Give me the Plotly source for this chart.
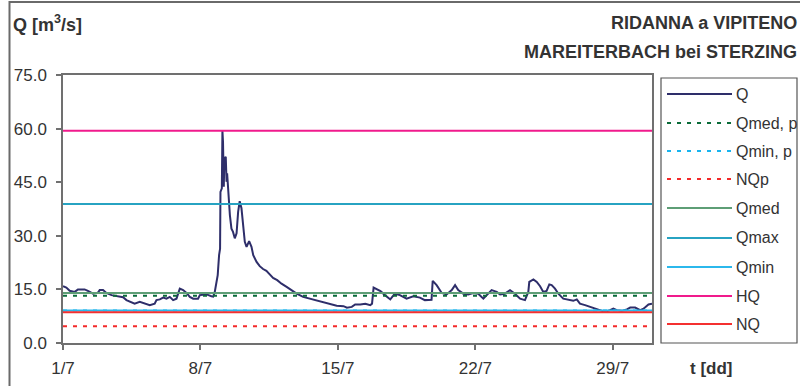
import pandas as pd
import plotly.graph_objects as go

# ---------------- data ----------------
# time in days after 1 July 00:00, discharge Q [m3/s]
t_days = [0.00, 0.17, 0.34, 0.60, 0.76, 1.10, 1.27, 1.53, 1.78, 1.87, 2.04, 2.21, 2.47, 2.80,
          3.06, 3.23, 3.49, 3.65, 3.91, 4.16, 4.42, 4.67, 4.76, 4.93, 5.10, 5.27, 5.44, 5.61,
          5.78, 5.95, 6.12, 6.29, 6.46, 6.63, 6.88, 6.97, 7.31, 7.56, 7.65, 7.73, 7.80, 7.88,
          7.95, 8.00, 8.02, 8.09, 8.12, 8.15, 8.19, 8.22, 8.29, 8.33, 8.36, 8.43, 8.50, 8.58,
          8.66, 8.75, 8.84, 8.92, 9.00, 9.09, 9.17, 9.26, 9.35, 9.48, 9.60, 9.69, 9.86, 10.02,
          10.19, 10.36, 10.53, 10.70, 10.91, 11.13, 11.39, 11.64, 11.90, 12.23, 12.57, 12.92,
          13.26, 13.60, 13.94, 14.29, 14.46, 14.71, 14.88, 15.14, 15.40, 15.65, 15.74, 15.82,
          16.00, 16.17, 16.40, 16.67, 16.90, 17.16, 17.50, 17.84, 18.18, 18.43, 18.77, 18.83,
          19.03, 19.29, 19.54, 19.80, 19.97, 20.13, 20.39, 20.64, 20.90, 21.15, 21.41, 21.66,
          21.83, 22.09, 22.26, 22.51, 22.77, 23.02, 23.28, 23.53, 23.70, 23.75, 23.96, 24.13,
          24.30, 24.46, 24.63, 24.77, 24.89, 25.06, 25.23, 25.48, 25.74, 25.99, 26.17, 26.33,
          26.59, 26.84, 27.10, 27.35, 27.61, 27.86, 28.03, 28.21, 28.46, 28.72, 28.89, 29.14,
          29.40, 29.57, 29.82, 30.00]
q_vals = [15.9, 15.5, 14.6, 14.3, 15.0, 15.0, 14.6, 13.8, 14.1, 14.8, 14.8, 14.0, 13.4, 13.1,
          12.8, 12.0, 11.5, 11.0, 11.5, 11.0, 10.6, 11.0, 12.0, 12.2, 12.7, 12.4, 12.9, 12.0,
          12.4, 15.2, 14.8, 14.0, 12.9, 12.4, 12.4, 13.4, 13.6, 13.1, 13.0, 14.3, 16.2, 19.0,
          24.6, 26.4, 42.3, 43.3, 59.4, 56.3, 43.7, 51.7, 52.1, 45.1, 47.5, 40.5, 35.8, 32.0,
          31.1, 29.3, 30.7, 36.7, 39.7, 37.7, 33.0, 28.3, 26.9, 28.5, 26.9, 24.6, 22.7, 21.5,
          20.7, 20.2, 19.2, 18.2, 17.6, 16.6, 15.7, 14.7, 13.8, 12.9, 12.4, 12.0,
          11.5, 10.8, 10.4, 10.3, 9.9, 10.1, 10.8, 10.8, 11.0, 10.6, 11.0, 15.5,
          15.0, 14.5, 13.4, 12.2, 13.8, 13.4, 12.4, 13.1, 12.7, 12.0, 12.1, 17.4,
          16.2, 14.0, 13.6, 14.8, 16.2, 14.8, 13.8, 13.6, 14.0, 13.8, 12.4, 13.8,
          14.8, 14.3, 13.6, 13.8, 14.8, 13.8, 12.4, 12.0, 14.3, 17.1, 17.8, 17.1,
          15.9, 14.3, 14.6, 16.4, 16.2, 15.2, 13.8, 12.4, 12.0, 11.8, 12.2, 11.0,
          10.6, 10.1, 9.6, 9.0, 8.7, 9.2, 9.6, 9.2, 9.0, 9.4, 9.9, 9.9,
          9.2, 9.6, 10.8, 11.0]

ref_names = ["Qmed, p", "Qmin, p", "NQp", "Qmed", "Qmax", "Qmin", "HQ", "NQ"]
ref_values = [13.2, 9.1, 4.7, 14.0, 38.9, 9.1, 59.4, 8.6]

x_ticks_text = ["1/7", "8/7", "15/7", "22/7", "29/7"]
y_ticks = [0, 15, 30, 45, 60, 75]

# ---------------- styles ----------------
styles = {
    "Q":       dict(color="#2E2E6A", dash="solid"),
    "Qmed, p": dict(color="#0B6B3A", dash="4px,6px"),
    "Qmin, p": dict(color="#1AB4EE", dash="4px,6px"),
    "NQp":     dict(color="#F42A2A", dash="4px,6px"),
    "Qmed":    dict(color="#5E9E76", dash="solid"),
    "Qmax":    dict(color="#27A3C2", dash="solid"),
    "Qmin":    dict(color="#2BB8EC", dash="solid"),
    "HQ":      dict(color="#F01A8C", dash="solid"),
    "NQ":      dict(color="#F43030", dash="solid"),
}

base = pd.Timestamp("2000-07-01")
t = [base + pd.Timedelta(days=d) for d in t_days]
x_start, x_end = base, base + pd.Timedelta(days=30)

fig = go.Figure()
fig.add_trace(go.Scatter(x=t, y=q_vals, mode="lines", name="Q",
                         line=dict(color=styles["Q"]["color"], width=2)))
for name, val in zip(ref_names, ref_values):
    st = styles[name]
    fig.add_trace(go.Scatter(x=[x_start, x_end], y=[val, val], mode="lines", name=name,
                             line=dict(color=st["color"], width=2, dash=st["dash"])))

W, H = 800, 386
L, R, T, B = 63, 148, 75, 43
pw, ph = W - L - R, H - T - B


def px(x):
    return (x - L) / pw


def py(y):
    return (H - B - y) / ph


FONT = "Liberation Sans, Arial, sans-serif"
TXT = "#333333"
AX = "#707070"

shapes = []
annotations = []

# outer chart frame (clipped at right/bottom)
shapes.append(dict(type="rect", xref="paper", yref="paper",
                   x0=px(9.5), x1=px(830), y0=py(420), y1=py(2),
                   line=dict(color="#6a6a6a", width=2), layer="below"))

# legend box
shapes.append(dict(type="rect", xref="paper", yref="paper",
                   x0=px(661), x1=px(797), y0=py(343), y1=py(78),
                   line=dict(color="#555555", width=1.2)))
leg_order = ["Q"] + ref_names
leg_y = [94, 123, 151, 179, 208, 238, 267, 296, 324]
for name, yy in zip(leg_order, leg_y):
    st = styles[name]
    shapes.append(dict(type="line", xref="paper", yref="paper",
                       x0=px(667), x1=px(732), y0=py(yy), y1=py(yy),
                       line=dict(color=st["color"], width=2, dash=st["dash"])))
    annotations.append(dict(xref="paper", yref="paper", x=px(734), y=py(yy),
                            xanchor="left", yanchor="middle", showarrow=False,
                            text=name, font=dict(family=FONT, size=16, color=TXT)))

# titles
annotations.append(dict(xref="paper", yref="paper", x=px(11), y=py(24),
                        xanchor="left", yanchor="middle", showarrow=False,
                        text="Q [m<sup>3</sup>/s]",
                        font=dict(family=FONT, size=18, color=TXT, weight="bold")))
annotations.append(dict(xref="paper", yref="paper", x=px(799), y=py(23),
                        xanchor="right", yanchor="middle", showarrow=False,
                        text="RIDANNA a VIPITENO",
                        font=dict(family=FONT, size=18, color=TXT, weight="bold")))
annotations.append(dict(xref="paper", yref="paper", x=px(799), y=py(52),
                        xanchor="right", yanchor="middle", showarrow=False,
                        text="MAREITERBACH bei STERZING",
                        font=dict(family=FONT, size=18, color=TXT, weight="bold")))
annotations.append(dict(xref="paper", yref="paper", x=px(711), y=py(368),
                        xanchor="center", yanchor="middle", showarrow=False,
                        text="t [dd]",
                        font=dict(family=FONT, size=17, color=TXT, weight="bold")))

fig.update_layout(
    width=W, height=H,
    margin=dict(l=L, r=R, t=T, b=B, pad=0, autoexpand=False),
    paper_bgcolor="white", plot_bgcolor="white",
    showlegend=False,
    shapes=shapes, annotations=annotations,
    xaxis=dict(type="date", range=[x_start, x_end], automargin=False,
               tickvals=[base + pd.Timedelta(days=7 * i) for i in range(len(x_ticks_text))],
               ticktext=x_ticks_text,
               showgrid=False, zeroline=False,
               showline=True, linecolor=AX, linewidth=1.5, mirror=True,
               ticks="outside", ticklen=5, tickcolor=AX, tickwidth=1.5,
               ticklabelstandoff=4,
               tickfont=dict(family=FONT, size=17, color=TXT)),
    yaxis=dict(range=[0, 75], tickvals=y_ticks, tickformat=".1f", automargin=False,
               showgrid=False, zeroline=False,
               showline=True, linecolor=AX, linewidth=1.5, mirror=True,
               ticks="outside", ticklen=5, tickcolor=AX, tickwidth=1.5,
               ticklabelstandoff=6,
               tickfont=dict(family=FONT, size=17, color=TXT)),
)

fig.write_html("out.html",
               config={"displayModeBar": False},
               post_script="document.body.style.margin='0';"
                           "document.body.style.padding='0';"
                           "document.body.style.overflow='hidden';")
